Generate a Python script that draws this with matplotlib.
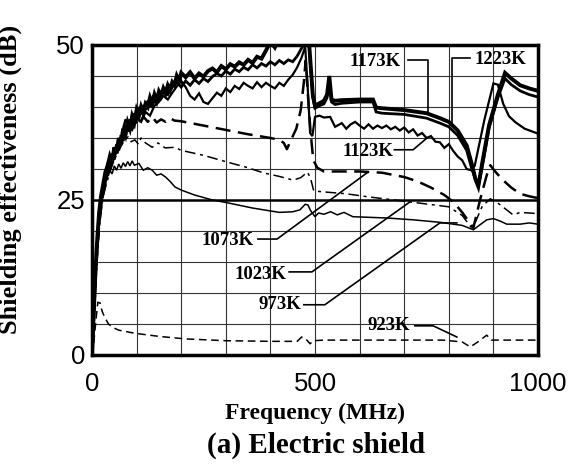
import matplotlib
matplotlib.use("Agg")
import matplotlib.pyplot as plt

# shielding effectiveness (dB) vs frequency (MHz)
f_1223 = [0, 4, 8, 12, 16, 20, 25, 30, 35, 40, 45, 50, 55, 60, 65, 70, 75, 80, 85, 90, 95,
          100, 105, 110, 115, 120, 125, 130, 135, 140, 145, 150, 155, 160, 165, 170, 175, 180,
          185, 190, 195, 200, 210, 220, 230, 240, 250, 260, 270, 280, 290, 300, 310, 320, 330,
          340, 350, 360, 370, 380, 390, 400, 410, 420, 430, 440, 450, 460, 470, 480, 487, 495,
          500, 510, 520, 527, 532, 537, 545, 560, 600, 630, 637, 650, 700, 750, 780, 800, 820,
          840, 850, 860, 866, 875, 890, 910, 926, 940, 960, 980, 1000]
se_1223 = [0, 7, 14, 19, 23, 25.5, 27.5, 29.5, 30.5, 32, 31, 33.5, 32.5, 35, 34, 36.5, 35.5, 37.5, 36.5, 38.5, 37.5,
           39.5, 38.5, 40, 39, 40.5, 40, 41.5, 40.5, 42, 41, 42.5, 41.8, 43, 42.2, 43.5, 42.8, 44,
           43.5, 45, 44.2, 45.5, 44.8, 45.6, 44.6, 45.4, 44.9, 45.8, 46.2, 45.6, 46.6, 46.1, 46.9, 46.5, 47.2,
           46.8, 47.6, 47.1, 48.1, 47.8, 49.1, 50.5, 49.6, 51, 50.2, 51, 50.5, 51, 50.6, 51, 50, 42,
           40.2, 40.6, 41, 42, 45, 41.2, 41, 41.1, 41.2, 41.2, 39.9, 39.8, 39.5, 39, 38.2, 37.6, 36.2,
           33.8, 31.2, 28.3, 27.2, 31, 37, 42, 45.5, 44.6, 43.5, 43, 42.6]

f_1173 = [0, 4, 8, 12, 16, 20, 25, 30, 35, 40, 45, 50, 55, 60, 65, 70, 75, 80, 85, 90, 95,
          100, 105, 110, 115, 120, 125, 130, 135, 140, 145, 150, 160, 170, 180, 190, 200, 210,
          220, 230, 240, 250, 260, 270, 280, 290, 300, 310, 320, 330, 340, 350, 360, 370, 380,
          390, 400, 410, 420, 430, 440, 450, 460, 470, 480, 487, 495, 500, 510, 520, 527, 532,
          537, 545, 560, 600, 630, 637, 650, 700, 750, 780, 800, 820, 840, 850, 860, 868, 878,
          890, 910, 926, 940, 960, 980, 1000]
se_1173 = [0, 6, 13, 18.5, 22, 24.5, 27, 28.5, 31, 30, 32.5, 31.5, 34, 33, 35.5, 34.5, 37, 36, 38, 37,
           39, 38, 40, 38.8, 40.3, 39.5, 41, 40, 41.6, 40.6, 42, 41.2, 42.5, 42, 43.2, 44, 43.2,
           44.2, 43.5, 44.4, 43.8, 44.6, 44.1, 44.9, 45.4, 45, 45.8, 45.3, 46.1, 45.7, 46.4, 46, 46.8, 46.3, 47,
           46.6, 47.3, 46.8, 47.5, 47, 47.6, 47.3, 48.2, 49.5, 50.5, 49.5, 41.5, 39.8, 40.2, 40.5, 41.5, 44.2,
           40.8, 40.4, 40.6, 40.8, 40.8, 39.2, 39, 38.8, 38.2, 37.4, 36.8, 35.4, 33, 30.4, 28.2, 27.8, 31.5,
           36.5, 41.5, 44.6, 43.6, 42.6, 42, 41.6]

f_1123 = [0, 4, 8, 12, 16, 20, 25, 30, 40, 50, 60, 70, 80, 90, 100, 110, 120, 130, 140, 150,
          160, 170, 180, 190, 200, 210, 220, 230, 240, 250, 260, 270, 280, 290, 300, 310, 320,
          330, 340, 350, 360, 370, 380, 390, 400, 410, 420, 430, 440, 450, 460, 470, 478, 483,
          489, 494, 500, 510, 520, 534, 545, 560, 570, 580, 590, 600, 610, 620, 630, 640, 650,
          660, 670, 680, 690, 700, 710, 720, 730, 740, 750, 760, 770, 780, 790, 800, 810, 820,
          830, 840, 850, 858, 880, 900, 910, 922, 935, 950, 970, 1000]
se_1123 = [0, 6, 12.5, 18, 21.5, 24, 26.5, 28, 30.5, 32, 34, 35, 36.8, 36.3, 38.2, 37.6, 39.2, 38.6, 40.2, 40.8,
           41.8, 41.2, 42.3, 43.3, 44.2, 43.2, 41.8, 41.2, 42.2, 40.8, 40.5, 41.4, 42.3, 41.8, 43, 42.4, 43.4,
           42.9, 43.9, 43.4, 43, 44, 43.2, 43.9, 43.4, 43, 43.9, 43.4, 44.4, 45.2, 46.4, 48, 49.7, 44,
           35.8, 35.3, 38.4, 38.6, 38.3, 38.4, 36.8, 37.4, 36.5, 37.2, 37.6, 37, 36.5, 37.2, 36.5, 37, 36.6,
           37, 36.4, 36.8, 36.2, 36.7, 35.9, 36.4, 35.4, 35.8, 35, 35.3, 34.4, 34.3, 33.4, 34, 32.9, 32,
           31.4, 30, 29.8, 30.5, 38, 43.8, 43.6, 40.5, 38.5, 37.5, 36.5, 35.7]

f_1073 = [0, 4, 8, 12, 16, 20, 25, 30, 40, 50, 60, 68, 75, 85, 95, 105, 115, 125, 135, 145,
          155, 165, 175, 185, 200, 250, 300, 350, 400, 420, 430, 437, 445, 458, 468, 475, 479,
          484, 490, 496, 505, 520, 600, 650, 700, 730, 760, 790, 810, 830, 845, 855, 870, 885,
          893, 905, 920, 940, 960, 980, 1000]
se_1073 = [0, 5.5, 12, 17, 21, 23.5, 26, 27.5, 30, 32, 34, 36, 37.9, 36.6, 38, 37, 38.5, 37.6, 38.4, 37.5,
           38, 37.6, 38.2, 37.8, 37.7, 37, 36.3, 35.6, 35, 34.7, 34.2, 33.2, 34.5, 36.5, 39.5, 44, 47.5,
           42, 36, 31.5, 30.2, 29.6, 29.6, 29.4, 28.7, 28, 27, 25.8, 24.7, 23, 21.5, 20.5, 25, 29,
           30.6, 29.5, 28.3, 27, 26, 25.6, 25.3]

f_1023 = [0, 4, 8, 12, 16, 20, 25, 30, 40, 50, 60, 70, 81, 88, 96, 104, 110, 120, 135, 148,
          164, 186, 200, 250, 309, 350, 383, 420, 451, 468, 483, 490, 497, 505, 520, 570, 620,
          700, 800, 830, 850, 860, 875, 893, 910, 928, 944, 960, 1000]
se_1023 = [0, 5, 11, 16, 20, 23, 25.5, 27, 29.5, 31.5, 33, 34.3, 35.2, 34.4, 34.7, 34, 35, 34.2, 33.5, 34.2,
           33.4, 33.5, 33, 32.2, 31, 30.2, 29.4, 28.8, 28.2, 28.6, 29.5, 28.5, 26.5, 26.4, 26.3, 26, 25.5,
           24.8, 23.9, 22.5, 20.6, 21.5, 24, 25.2, 24.5, 23.5, 22.6, 23, 22.8]

f_973 = [0, 4, 8, 12, 16, 20, 25, 30, 35, 40, 45, 50, 55, 60, 65, 70, 75, 80, 85, 90, 95,
         105, 115, 125, 135, 145, 155, 165, 175, 186, 200, 230, 270, 300, 360, 420, 450, 466,
         478, 484, 490, 500, 508, 520, 535, 550, 565, 585, 660, 720, 780, 830, 855, 870, 885,
         900, 915, 930, 960, 980, 1000]
se_973 = [0, 6, 12.5, 17.5, 21, 23.5, 26, 27.5, 29, 29.8, 29.2, 30.5, 29.8, 30.8, 30.1, 31, 30.4, 31.2, 30.5, 31.3, 30.6,
          30.9, 29.8, 30.2, 29.8, 29, 29.2, 28.7, 28, 27.1, 26.6, 25.8, 25, 24.6, 23.7, 23, 23.1, 23.4,
          24.3, 24.2, 23.3, 22.3, 22.9, 22.7, 23.1, 22.6, 23, 22.3, 22.1, 21.8, 21.4, 20.9, 20.2, 21, 21.8,
          22, 21.6, 21.1, 21.1, 21.3, 21.1]

f_923 = [0, 4, 8, 13, 18, 23, 29, 37, 45, 60, 96, 150, 208, 300, 400, 460, 470, 478, 489,
         496, 520, 600, 700, 787, 830, 848, 865, 885, 895, 1000]
se_923 = [0, 2, 5, 8.5, 8.4, 7, 6, 5, 4.5, 4, 3.5, 3, 2.6, 2.3, 2.2, 2.2, 2.9, 2.7, 1.8,
          2.3, 2.4, 2.4, 2.4, 2.4, 2.1, 1.3, 2.1, 3.2, 2.4, 2.4]

plt.rcParams['font.family'] = ['Liberation Serif', 'DejaVu Serif']

fig = plt.figure(figsize=(5.7, 4.74), dpi=100)
ax = fig.add_axes([0.1614, 0.2511, 0.7825, 0.654])

# grid every 100 MHz / 5 dB, heavier at 25 dB
for x in range(100, 1000, 100):
    ax.axvline(x, color='#333333', lw=0.8, zorder=1)
for y in range(5, 50, 5):
    ax.axhline(y, color='black' if y == 25 else '#333333', lw=1.8 if y == 25 else 0.8, zorder=1)

k = dict(color='black', zorder=3, solid_joinstyle='miter')
ax.plot(f_923, se_923, lw=1.1, dashes=(5, 3), **k)
ax.plot(f_973, se_973, lw=1.1, **k)
ax.plot(f_1023, se_1023, lw=1.1, dashes=(7, 3, 2, 3), **k)
ax.plot(f_1073, se_1073, lw=1.8, dashes=(6, 3), **k)
ax.plot(f_1123, se_1123, lw=1.6, **k)
ax.plot(f_1173, se_1173, lw=2.0, **k)
ax.plot(f_1223, se_1223, lw=2.8, **k)

# temperature labels with leader lines
lab = dict(fontsize=13.5, fontweight='bold', va='center', zorder=5)
ld = dict(color='black', lw=1.2, zorder=4, clip_on=False)
ax.text(634, 47.3, '1173K', ha='center', **lab)
ax.plot([708, 753, 753], [47.6, 47.6, 39.2], **ld)
ax.text(915, 47.6, '1223K', ha='center', **lab)
ax.plot([848, 807, 807], [47.9, 47.9, 37.4], **ld)
ax.text(619, 32.8, '1123K', ha='center', **lab)
ax.plot([678, 720, 751], [33.1, 33.1, 35.0], **ld)
ax.text(305, 18.4, '1073K', ha='center', **lab)
ax.plot([372, 415, 617], [18.7, 18.7, 29.4], **ld)
ax.text(377, 12.9, '1023K', ha='center', **lab)
ax.plot([442, 493, 713], [13.4, 13.4, 24.7], **ld)
ax.text(422, 8.1, '973K', ha='center', **lab)
ax.plot([475, 522, 780, 818], [8.1, 8.1, 21.3, 21.3], **ld)
ax.text(666, 4.7, '923K', ha='center', **lab)
ax.plot([724, 765, 818], [4.7, 4.7, 2.9], **ld)

ax.set_xlim(0, 1000)
ax.set_ylim(0, 50)
ax.set_xticks([0, 500, 1000])
ax.set_yticks([0, 25, 50])
ax.tick_params(length=0, labelsize=18.5)
ax.tick_params(axis='x', pad=12)
ax.tick_params(axis='y', pad=5)
for t in ax.get_xticklabels() + ax.get_yticklabels():
    t.set_family('Liberation Sans')
for s in ax.spines.values():
    s.set_linewidth(2.5)
    s.set_zorder(6)

ax.set_xlabel('Frequency (MHz)', fontsize=17, fontweight='bold', labelpad=5)
ax.set_ylabel('Shielding effectiveness (dB)', fontsize=19, fontweight='bold')
ax.yaxis.set_label_coords(-0.157, 0.565)
fig.text(0.555, 0.06, '(a) Electric shield', fontsize=21, fontweight='bold', ha='center', va='center')

fig.savefig('out.png', dpi=100)
